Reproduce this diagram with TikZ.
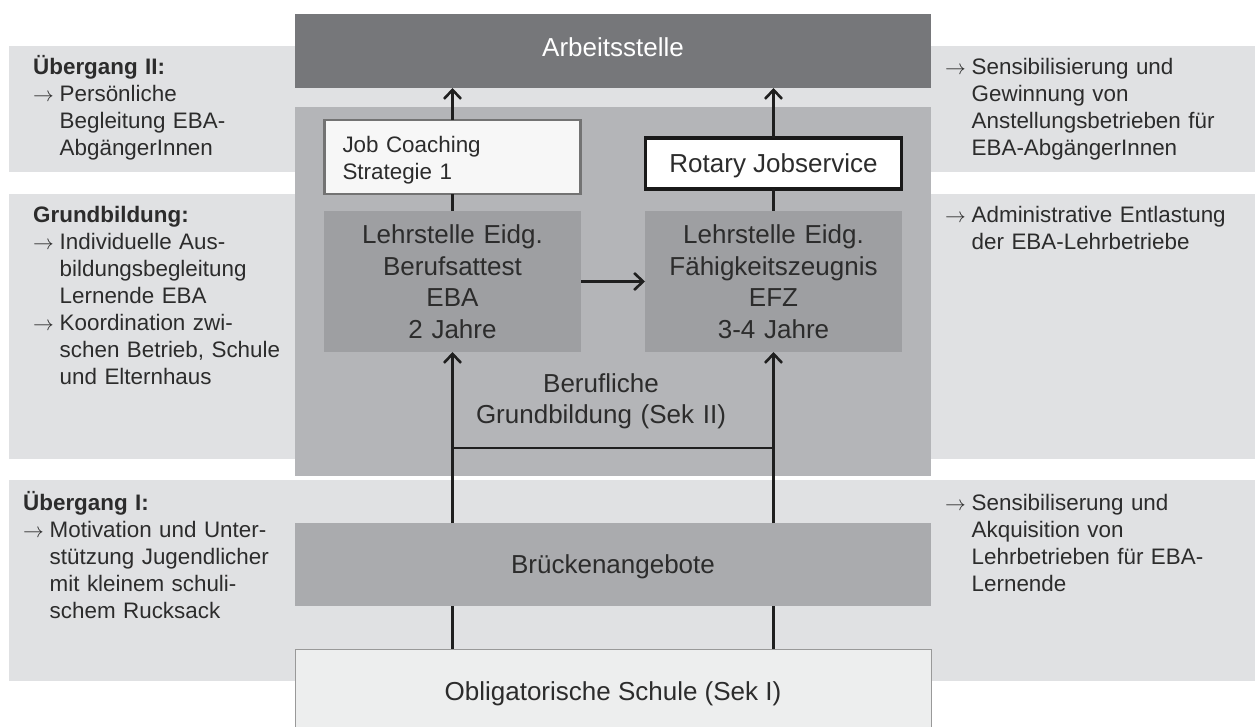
\documentclass[tikz,border=0pt]{standalone}
\usepackage{fontspec}
\setmainfont{Liberation Sans}
\usepackage{tikz}
\usetikzlibrary{arrows.meta,positioning}
\definecolor{bandgray}{RGB}{224,225,227}
\definecolor{arbgray}{RGB}{118,119,122}
\definecolor{grundgray}{RGB}{180,181,184}
\definecolor{lehrgray}{RGB}{158,159,162}
\definecolor{brueckgray}{RGB}{170,171,174}
\definecolor{schulgray}{RGB}{237,238,238}
\definecolor{textgray}{RGB}{44,44,44}
\newcommand{\pfeil}{\makebox[26.5pt][l]{$\rightarrow$}}
\newcommand{\einzug}{\hspace*{26.5pt}}
\tikzset{
  every picture/.style = {
    x = 1pt,
    y = -1pt,
    >= {Straight Barb[length=9pt,width=17pt]},
  }
  ,
  connector/.style = {
    draw = black!88,
    line width = 2.6pt
  }
  ,
  box/.style = {
    rectangle,
    inner sep = 0pt,
    outer sep = 0pt,
    font = \fontsize{26}{31.5}\selectfont,
    text = textgray
  }
  , % boxes with one line of text
  onebox/.style = {
    box,
    text height = 19pt,
    text depth = 0pt
  }
  , % boxes with several lines
  lehrbox/.style = {
    box,
    fill = lehrgray,
    minimum width = 257pt,
    minimum height = 141pt,
    text width = 245pt,
    align = center
  }
  , % texts beside the middle column
  side/.style = {
    anchor = base west,
    inner sep = 0pt,
    text width = 290pt,
    align = left,
    font = \fontsize{22.4}{27}\selectfont,
    text = textgray
  }
}

\begin{document}
\begin{tikzpicture}
\useasboundingbox (0,0) rectangle (1255,727);
% bands
\fill[bandgray] (9,46) rectangle (1255,172);
\fill[bandgray] (9,194) rectangle (1255,459);
\fill[bandgray] (9,480) rectangle (1255,681);

\node[onebox, fill=arbgray, text=white, text depth=7pt, minimum width=636pt, minimum height=74pt] (arb) at (613,51) {Arbeitsstelle};
\node[box, fill=grundgray, minimum width=636pt, minimum height=369pt] (grund) at (613,291.5) {};
\node[box, anchor=base, text width=320pt, align=center] (grundlabel) at (601,392) {Berufliche\\Grundbildung (Sek II)};
\node[box, fill=white!97!black, draw=black!55, line width=2.7pt, minimum width=256pt, minimum height=74pt, inner xsep=18pt, text width=220pt, text depth=25.7pt, align=left, font=\fontsize{22.4}{27}\selectfont] (jc) at (452.5,157) {Job Coaching\\Strategie 1};
\node[onebox, fill=white, draw=black!90, line width=3.3pt, minimum width=256pt, minimum height=51pt] (rot) at (773.5,163.5) {Rotary Jobservice};
\node[lehrbox] (eba) at (452.5,281.5) {Lehrstelle Eidg.\\Berufsattest\\EBA\\2 Jahre};
\node[lehrbox] (efz) at (773.5,281.5) {Lehrstelle Eidg.\\Fähigkeitszeugnis\\EFZ\\3-4 Jahre};
\node[onebox, fill=brueckgray, text depth=2pt, minimum width=636pt, minimum height=83pt] (bruecke) at (613,564.5) {Brückenangebote};
\node[onebox, fill=schulgray, draw=black!40, line width=1pt, minimum width=636pt, minimum height=83pt] (schule) at (613,690.5) {Obligatorische Schule (Sek I)};
\coordinate (verbind) at (613,448);

% connectors
\path (jc) edge[connector, ->] (jc |- arb.south);
\path (eba) edge[connector] (jc);
\path (rot) edge[connector, ->] (rot |- arb.south);
\path (efz) edge[connector] (rot);
\path (eba) edge[connector, ->] (efz);
\path (eba |- bruecke.north) edge[connector, ->] (eba);
\path (efz |- bruecke.north) edge[connector, ->] (efz);
\path (eba |- verbind) edge[connector, line width=2.3pt] (efz |- verbind);
\path (eba |- schule.north) edge[connector] (eba |- bruecke.south);
\path (efz |- schule.north) edge[connector] (efz |- bruecke.south);

% left texts
\node[side] (links1) at (33,75) {\textbf{Übergang II:}\\
  \pfeil Persönliche\\
  \einzug Begleitung EBA-\\
  \einzug AbgängerInnen};
\node[side] (links2) at (33,223) {\textbf{Grundbildung:}\\
  \pfeil Individuelle Aus-\\
  \einzug bildungsbegleitung\\
  \einzug Lernende EBA\\
  \pfeil Koordination zwi-\\
  \einzug schen Betrieb, Schule\\
  \einzug und Elternhaus};
\node[side] (links3) at (23,510) {\textbf{Übergang I:}\\
  \pfeil Motivation und Unter-\\
  \einzug stützung Jugendlicher\\
  \einzug mit kleinem schuli-\\
  \einzug schem Rucksack};
% right texts
\node[side] (rechts1) at (945,75) {\pfeil Sensibilisierung und\\
  \einzug Gewinnung von\\
  \einzug Anstellungsbetrieben für\\
  \einzug EBA-AbgängerInnen};
\node[side] (rechts2) at (945,223) {\pfeil Administrative Entlastung\\
  \einzug der EBA-Lehrbetriebe};
\node[side] (rechts3) at (945,510) {\pfeil Sensibiliserung und\\
  \einzug Akquisition von\\
  \einzug Lehrbetrieben für EBA-\\
  \einzug Lernende};
\end{tikzpicture}
\end{document}
